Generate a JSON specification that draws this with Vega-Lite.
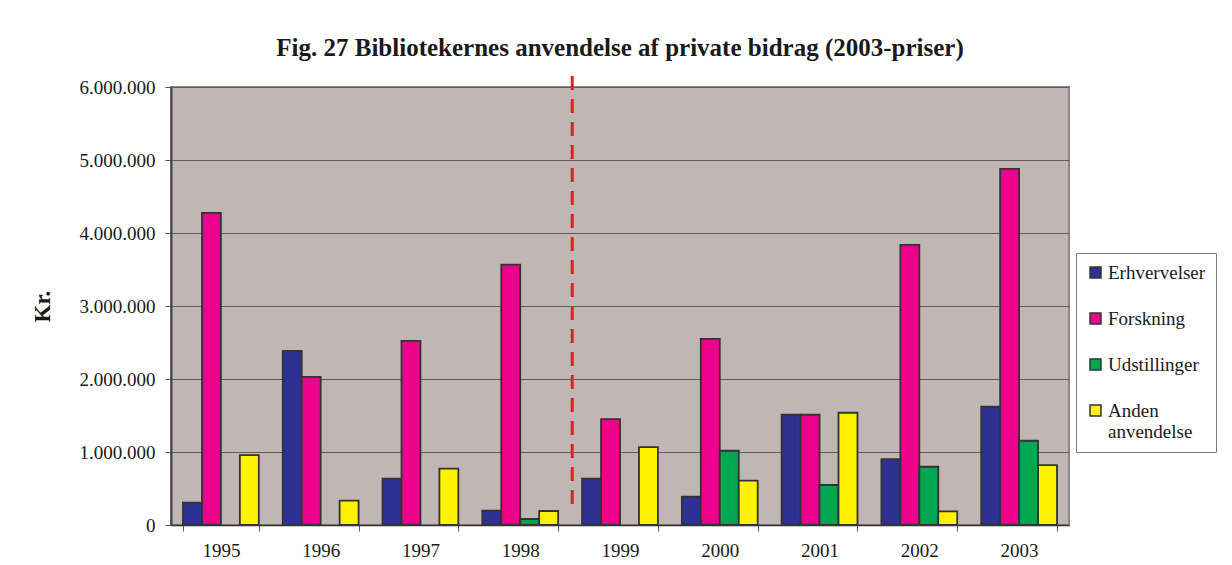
{
  "$schema": "https://vega.github.io/schema/vega-lite/v6.json",
  "autosize": {"type": "none"},
  "width": 898,
  "height": 438,
  "padding": {"left": 171, "top": 87, "right": 163, "bottom": 40},
  "background": "white",
  "title": {
    "text": "Fig. 27 Bibliotekernes anvendelse af private bidrag (2003-priser)",
    "font": "Liberation Serif",
    "fontSize": 25,
    "fontWeight": "bold",
    "color": "#1a1a1a",
    "anchor": "middle",
    "offset": 14
  },
  "config": {
    "locale": {"number": {"decimal": ",", "thousands": ".", "grouping": [3], "currency": ["", " kr."]}},
    "view": {"fill": "#C0B7B4", "stroke": "#8C8482", "strokeWidth": 2},
    "axis": {"labelFont": "Liberation Serif", "labelFontSize": 19, "labelColor": "#1a1a1a", "titleFont": "Liberation Serif"}
  },
  "datasets": {
    "bars": [
      {"year": "1995", "serie": "Erhvervelser", "value": 306000},
      {"year": "1995", "serie": "Forskning", "value": 4275000},
      {"year": "1995", "serie": "Anden anvendelse", "value": 958000},
      {"year": "1996", "serie": "Erhvervelser", "value": 2386000},
      {"year": "1996", "serie": "Forskning", "value": 2030000},
      {"year": "1996", "serie": "Anden anvendelse", "value": 333000},
      {"year": "1997", "serie": "Erhvervelser", "value": 634000},
      {"year": "1997", "serie": "Forskning", "value": 2523000},
      {"year": "1997", "serie": "Anden anvendelse", "value": 771000},
      {"year": "1998", "serie": "Erhvervelser", "value": 196000},
      {"year": "1998", "serie": "Forskning", "value": 3568000},
      {"year": "1998", "serie": "Udstillinger", "value": 82000},
      {"year": "1998", "serie": "Anden anvendelse", "value": 192000},
      {"year": "1999", "serie": "Erhvervelser", "value": 634000},
      {"year": "1999", "serie": "Forskning", "value": 1451000},
      {"year": "1999", "serie": "Anden anvendelse", "value": 1068000},
      {"year": "2000", "serie": "Erhvervelser", "value": 388000},
      {"year": "2000", "serie": "Forskning", "value": 2551000},
      {"year": "2000", "serie": "Udstillinger", "value": 1017000},
      {"year": "2000", "serie": "Anden anvendelse", "value": 607000},
      {"year": "2001", "serie": "Erhvervelser", "value": 1510000},
      {"year": "2001", "serie": "Forskning", "value": 1510000},
      {"year": "2001", "serie": "Udstillinger", "value": 548000},
      {"year": "2001", "serie": "Anden anvendelse", "value": 1538000},
      {"year": "2002", "serie": "Erhvervelser", "value": 903000},
      {"year": "2002", "serie": "Forskning", "value": 3837000},
      {"year": "2002", "serie": "Udstillinger", "value": 798000},
      {"year": "2002", "serie": "Anden anvendelse", "value": 187000},
      {"year": "2003", "serie": "Erhvervelser", "value": 1620000},
      {"year": "2003", "serie": "Forskning", "value": 4878000},
      {"year": "2003", "serie": "Udstillinger", "value": 1154000},
      {"year": "2003", "serie": "Anden anvendelse", "value": 821000}
    ],
    "divider": [
      {"year": "1999", "top": 6150000, "bottom": 230000}
    ]
  },
  "layer": [
    {
      "data": {"name": "bars"},
      "mark": {"type": "bar", "stroke": "#333333", "strokeWidth": 1.8},
      "encoding": {
        "x": {
          "field": "year",
          "type": "ordinal",
          "scale": {"paddingInner": 0.24, "paddingOuter": 0.12},
          "axis": {
            "title": null,
            "labelAngle": 0,
            "tickBand": "extent",
            "tickSize": 6,
            "tickColor": "#555555",
            "domainColor": "#333333",
            "domainWidth": 1.5,
            "labelPadding": 10,
            "labelBaseline": "top"
          }
        },
        "xOffset": {
          "field": "serie",
          "type": "nominal",
          "sort": ["Erhvervelser", "Forskning", "Udstillinger", "Anden anvendelse"],
          "scale": {"domain": ["Erhvervelser", "Forskning", "Udstillinger", "Anden anvendelse"], "paddingInner": 0, "paddingOuter": 0}
        },
        "y": {
          "field": "value",
          "type": "quantitative",
          "scale": {"domain": [0, 6000000], "nice": false},
          "axis": {
            "title": "Kr.",
            "titleFontSize": 23,
            "titleFontWeight": "bold",
            "titleColor": "#1a1a1a",
            "titleX": -117,
            "titleY": 219,
            "values": [0, 1000000, 2000000, 3000000, 4000000, 5000000, 6000000],
            "format": ",.0f",
            "grid": true,
            "gridColor": "#625c5a",
            "gridWidth": 1.2,
            "domainColor": "#444444",
            "domainWidth": 2,
            "tickColor": "#555555",
            "tickSize": 6,
            "labelPadding": 10
          }
        },
        "color": {
          "field": "serie",
          "type": "nominal",
          "scale": {
            "domain": ["Erhvervelser", "Forskning", "Udstillinger", "Anden anvendelse"],
            "range": ["#2E3192", "#EC008C", "#00A650", "#FFF200"]
          },
          "legend": {
            "title": null,
            "orient": "none",
            "legendX": 905,
            "legendY": 166,
            "direction": "vertical",
            "fillColor": "white",
            "strokeColor": "#7a7a7a",
            "padding": 10,
            "symbolType": "square",
            "symbolSize": 120,
            "symbolStrokeColor": "#333333",
            "symbolStrokeWidth": 1.5,
            "labelFont": "Liberation Serif",
            "labelFontSize": 19,
            "labelColor": "#1a1a1a",
            "labelOffset": 3,
            "rowPadding": 26,
            "labelLimit": 200,
            "labelExpr": "datum.label == 'Anden anvendelse' ? ['Anden', 'anvendelse'] : datum.label"
          }
        }
      }
    },
    {
      "data": {"name": "divider"},
      "mark": {"type": "rule", "color": "#ED1C24", "strokeWidth": 3, "strokeDash": [14, 9]},
      "encoding": {
        "x": {"field": "year", "type": "ordinal", "bandPosition": -0.13},
        "y": {"field": "top", "type": "quantitative"},
        "y2": {"field": "bottom"}
      }
    }
  ]
}
